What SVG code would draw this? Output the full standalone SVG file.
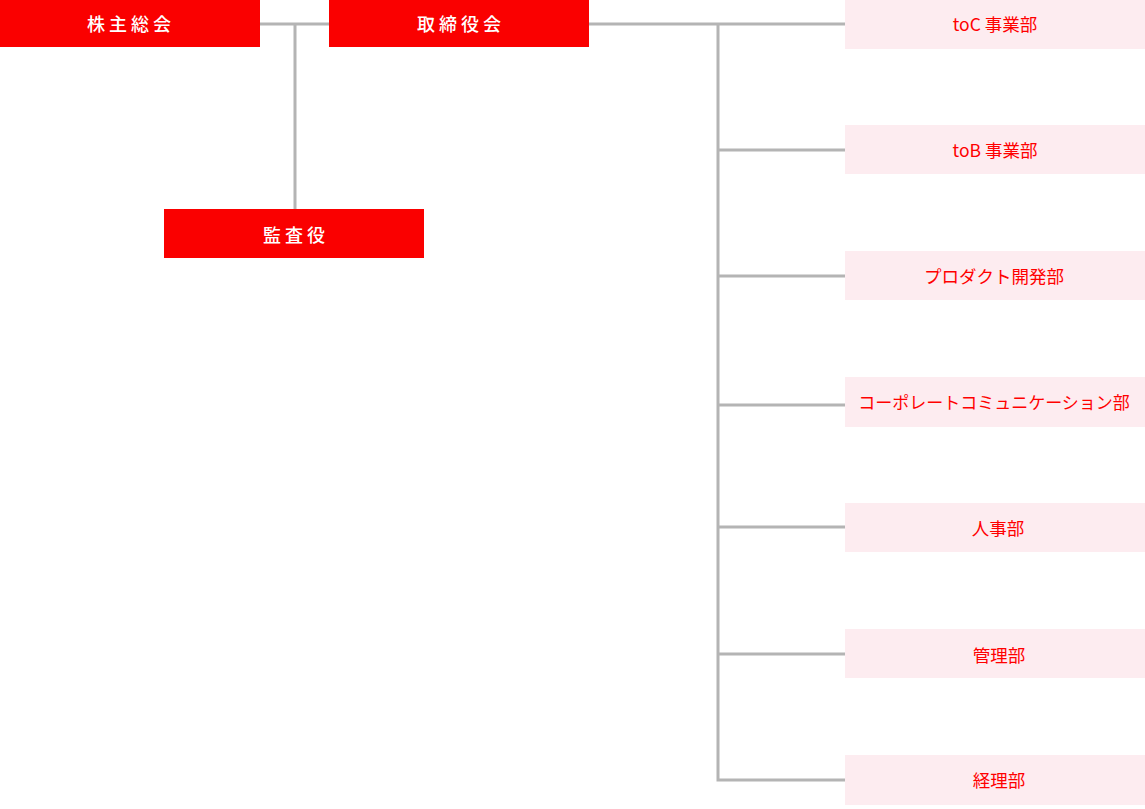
<svg xmlns="http://www.w3.org/2000/svg" width="1145" height="809" viewBox="0 0 1145 809">
<style>
.top rect{fill:#fa0000}
.top text{fill:#fff;font-family:"Noto Sans CJK JP","Noto Sans",sans-serif;font-size:18px;font-weight:500;letter-spacing:4px;text-anchor:middle;dominant-baseline:central}
.dep rect{fill:#fdecf0}
.dep text{fill:#ff0000;font-family:"Noto Sans CJK JP","Noto Sans",sans-serif;font-size:17.5px;text-anchor:middle;dominant-baseline:central}
.con{stroke:#b4b4b4;stroke-width:3;fill:none}
</style>
<rect width="1145" height="809" fill="#fff"/>
<g id="connectors" class="con">
<path d="M260 24H329M295 24V209"/>
<path d="M589 24H845M718 24V780H845"/>
<path d="M718 150H845M718 276H845M718 405H845M718 527H845M718 654H845"/>
</g>
<g id="kabunushi" class="top"><rect x="0" y="0" width="260" height="47"/><text x="131" y="23">株主総会</text></g>
<g id="torishimariyaku" class="top"><rect x="329" y="0" width="260" height="47"/><text x="461" y="23">取締役会</text></g>
<g id="kansayaku" class="top"><rect x="164" y="209" width="260" height="49"/><text x="296" y="234">監査役</text></g>
<g id="toc" class="dep"><rect x="845" y="0" width="300" height="49"/><text x="995" y="23">toC 事業部</text></g>
<g id="tob" class="dep"><rect x="845" y="125" width="300" height="49"/><text x="995" y="149">toB 事業部</text></g>
<g id="product" class="dep"><rect x="845" y="251" width="300" height="49"/><text x="994" y="275">プロダクト開発部</text></g>
<g id="corpcomm" class="dep"><rect x="845" y="377" width="300" height="50"/><text x="994" y="401" style="font-size:17px">コーポレートコミュニケーション部</text></g>
<g id="jinji" class="dep"><rect x="845" y="503" width="300" height="49"/><text x="998" y="527">人事部</text></g>
<g id="kanri" class="dep"><rect x="845" y="629" width="300" height="49"/><text x="999" y="654">管理部</text></g>
<g id="keiri" class="dep"><rect x="845" y="755" width="300" height="50"/><text x="999" y="779">経理部</text></g>
</svg>
